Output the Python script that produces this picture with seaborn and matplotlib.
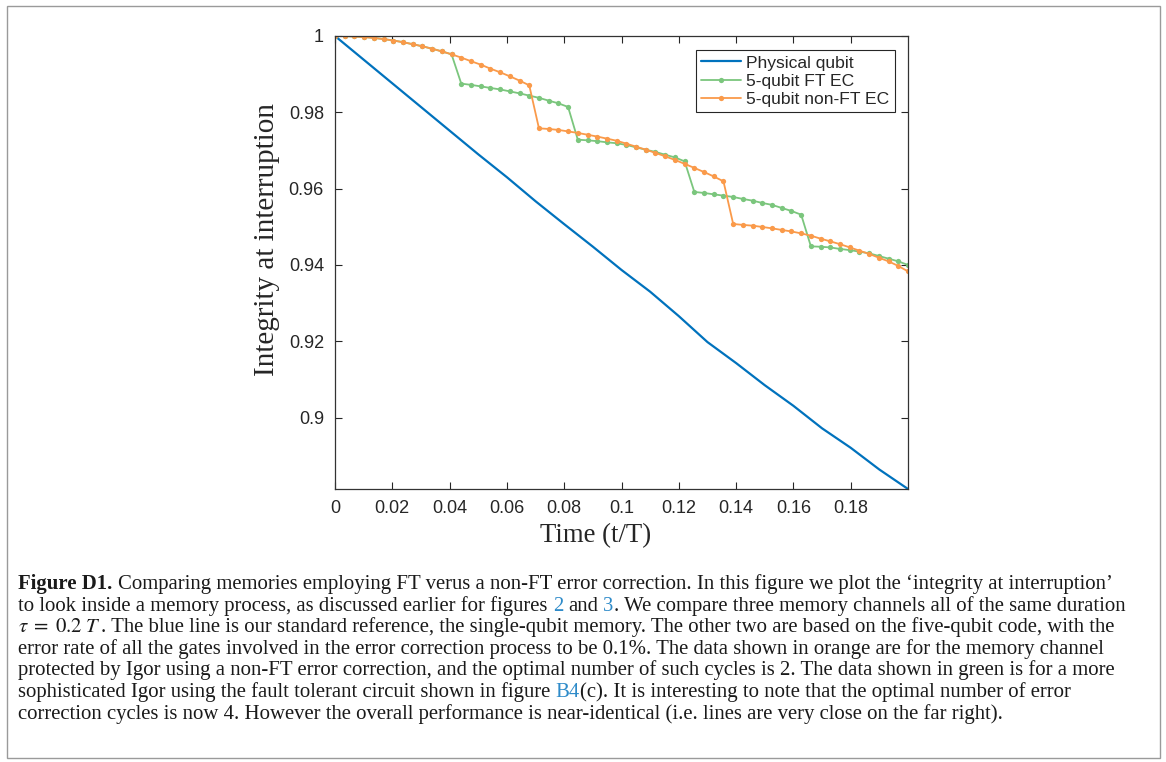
import matplotlib
matplotlib.use('Agg')
import matplotlib.pyplot as plt
from matplotlib.transforms import IdentityTransform
from matplotlib.patches import Rectangle
import numpy as np
import pandas as pd
import seaborn as sns

# ---- values ----
time_physical = [0.00, 0.01, 0.02, 0.03, 0.04, 0.05, 0.06, 0.07, 0.08, 0.09, 0.10,
                 0.11, 0.12, 0.13, 0.14, 0.15, 0.16, 0.17, 0.18, 0.19, 0.20]
integrity_physical = [1.0000, 0.9938, 0.9876, 0.9814, 0.9752, 0.9690, 0.9630, 0.9567,
                      0.9507, 0.9448, 0.9387, 0.9330, 0.9266, 0.9198, 0.9143, 0.9085,
                      0.9031, 0.8972, 0.8921, 0.8864, 0.8813]

# 60 equally spaced snapshots over the memory duration tau = 0.2 T
time_ec = np.linspace(0, 0.2, 60)

integrity_ft = [1.00000, 0.99997, 0.99988, 0.99972, 0.99950, 0.99920, 0.99882, 0.99838,
                0.99785, 0.99730, 0.99667, 0.99597, 0.99520, 0.98752, 0.98720, 0.98680,
                0.98639, 0.98600, 0.98549, 0.98497, 0.98438, 0.98380, 0.98306, 0.98236,
                0.98141, 0.97284, 0.97266, 0.97245, 0.97214, 0.97190, 0.97145, 0.97083,
                0.97020, 0.96962, 0.96889, 0.96819, 0.96715, 0.95914, 0.95887, 0.95851,
                0.95817, 0.95782, 0.95730, 0.95685, 0.95625, 0.95575, 0.95494, 0.95415,
                0.95318, 0.94488, 0.94478, 0.94460, 0.94420, 0.94390, 0.94349, 0.94305,
                0.94236, 0.94165, 0.94095, 0.94000]

integrity_nonft = [1.00000, 0.99997, 0.99988, 0.99972, 0.99950, 0.99920, 0.99882, 0.99838,
                   0.99785, 0.99730, 0.99667, 0.99597, 0.99520, 0.99434, 0.99340, 0.99250,
                   0.99145, 0.99049, 0.98944, 0.98831, 0.98708, 0.97581, 0.97564, 0.97539,
                   0.97500, 0.97460, 0.97413, 0.97365, 0.97311, 0.97255, 0.97180, 0.97100,
                   0.97022, 0.96936, 0.96847, 0.96753, 0.96650, 0.96543, 0.96435, 0.96320,
                   0.96191, 0.95075, 0.95050, 0.95030, 0.94996, 0.94960, 0.94918, 0.94878,
                   0.94828, 0.94768, 0.94690, 0.94619, 0.94545, 0.94461, 0.94375, 0.94290,
                   0.94191, 0.94095, 0.93974, 0.93832]

series_labels = ['Physical qubit', '5-qubit FT EC', '5-qubit non-FT EC']
xtick_values = [0, 0.02, 0.04, 0.06, 0.08, 0.1, 0.12, 0.14, 0.16, 0.18]
xtick_labels = ['0', '0.02', '0.04', '0.06', '0.08', '0.1', '0.12', '0.14', '0.16', '0.18']
ytick_values = [0.9, 0.92, 0.94, 0.96, 0.98, 1.0]
ytick_labels = ['0.9', '0.92', '0.94', '0.96', '0.98', '1']

caption_lines = [
    [('Figure D1.', 'bold'), None,
     ('Comparing memories employing FT verus a non-FT error correction. In this figure we plot the \u2018integrity at interruption\u2019', 'text')],
    [('to look inside a memory process, as discussed earlier for figures', 'text'), None, ('2', 'link'), None,
     ('and', 'text'), None, ('3', 'link'), ('. We compare three memory channels all of the same duration', 'text')],
    [(r'$\tau\;=\;0.2\ T$', 'math'),
     ('. The blue line is our standard reference, the single-qubit memory. The other two are based on the five-qubit code, with the', 'text')],
    [('error rate of all the gates involved in the error correction process to be 0.1%. The data shown in orange are for the memory channel', 'text')],
    [('protected by Igor using a non-FT error correction, and the optimal number of such cycles is 2. The data shown in green is for a more', 'text')],
    [('sophisticated Igor using the fault tolerant circuit shown in figure', 'text'), None, ('B4', 'link'),
     ('(c). It is interesting to note that the optimal number of error', 'text')],
    [('correction cycles is now 4. However the overall performance is near-identical (i.e. lines are very close on the far right).', 'text')],
]

colors = {'Physical qubit': '#0072BD', '5-qubit FT EC': '#7BC67D', '5-qubit non-FT EC': '#FA9A4A'}
link_color = '#2E8BC9'

sns.set_style('white')
plt.rcParams['font.family'] = ['Liberation Sans', 'DejaVu Sans']
plt.rcParams['mathtext.fontset'] = 'stix'

W, H = 1166, 762
fig = plt.figure(figsize=(W / 100, H / 100), dpi=100)
ax = fig.add_axes([335 / W, 1 - 489 / H, 573 / W, 453 / H])

sns.lineplot(x=time_physical, y=integrity_physical, ax=ax, color=colors['Physical qubit'],
             lw=1.6, label=series_labels[0], estimator=None)
sns.lineplot(x=time_ec, y=integrity_ft, ax=ax, color=colors['5-qubit FT EC'], lw=1.3,
             marker='o', markersize=3.8, markeredgewidth=0, label=series_labels[1], estimator=None)
sns.lineplot(x=time_ec, y=integrity_nonft, ax=ax, color=colors['5-qubit non-FT EC'], lw=1.3,
             marker='o', markersize=3.8, markeredgewidth=0, label=series_labels[2], estimator=None)

ax.set_xlim(0, 0.2)
ax.set_ylim(integrity_physical[-1], 1.0)
ax.set_xticks(xtick_values, xtick_labels)
ax.set_yticks(ytick_values, ytick_labels)
ax.tick_params(direction='in', length=5, width=0.8, top=True, right=True, bottom=True, left=True,
               labelsize=13, colors='#262626', pad=8)
for s in ax.spines.values():
    s.set_visible(True)
    s.set_color('#333333')
    s.set_linewidth(0.9)

ax.set_xlabel('Time (t/T)', family='Liberation Serif', fontsize=19.3, color='#262626')
ax.set_ylabel('Integrity at interruption', family='Liberation Serif', fontsize=21, color='#262626')
ax.xaxis.set_label_coords(0.455, -0.104)
ax.yaxis.set_label_coords(-0.119, 0.55)
ax.xaxis.label.set_va('center')
ax.yaxis.label.set_va('center')

leg = ax.legend(loc='upper right', bbox_to_anchor=(0.977, 0.969), borderaxespad=0,
                fontsize=12.6, frameon=True, fancybox=False, framealpha=1, edgecolor='#262626',
                handlelength=2.3, handletextpad=0.3, labelspacing=0.17, borderpad=0.3)
leg.get_frame().set_linewidth(0.8)

# ---- caption ----
renderer = fig.canvas.get_renderer()


def piece_style(kind, size):
    st = {'fontsize': size, 'family': 'Liberation Serif', 'color': '#1a1a1a'}
    if kind == 'bold':
        st['weight'] = 'bold'
    if kind == 'link':
        st['color'] = link_color
    return st


def draw_line(pieces, x0, y, size, keep=True):
    probe_a = fig.text(0, 0, 'a a', transform=IdentityTransform(), **piece_style('text', size))
    probe_b = fig.text(0, 0, 'aa', transform=IdentityTransform(), **piece_style('text', size))
    gap = probe_a.get_window_extent(renderer).width - probe_b.get_window_extent(renderer).width
    probe_a.remove()
    probe_b.remove()
    x = x0
    made = []
    for p in pieces:
        if p is None:
            x += gap
            continue
        s, kind = p
        t = fig.text(x, y, s, transform=IdentityTransform(), ha='left', va='baseline',
                     **piece_style(kind, size))
        x += t.get_window_extent(renderer).width
        made.append(t)
    if not keep:
        for t in made:
            t.remove()
    return x - x0


# fit the caption size on the fourth line (plain text, ends near x=1103)
base = 13.0
w4 = draw_line(caption_lines[3], 18, 0, base, keep=False)
cap_size = base * 1085 / w4

baseline0 = H - 589
for i, line in enumerate(caption_lines):
    draw_line(line, 18, baseline0 - i * 21.6, cap_size)

fig.patches.append(Rectangle((7 / W, 4 / H), 1153 / W, 752 / H, transform=fig.transFigure,
                             fill=False, edgecolor='#9a9a9a', lw=1.0))

fig.savefig('out.png', dpi=100)
